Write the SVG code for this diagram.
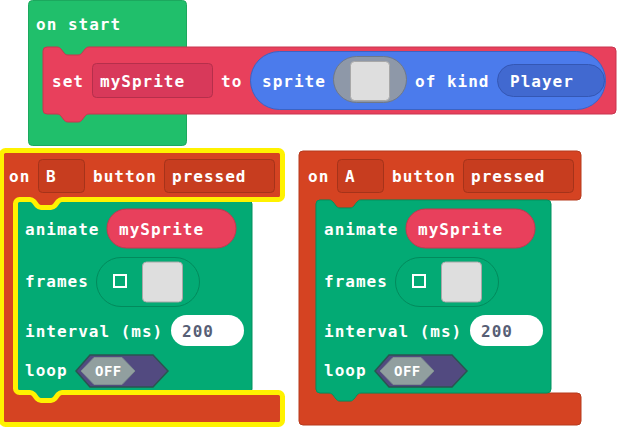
<svg xmlns="http://www.w3.org/2000/svg" width="617" height="427" viewBox="0 0 617 427">
  <style>
    .t { font-family: "DejaVu Sans Mono", "Liberation Mono", monospace; font-weight: bold; font-size: 16px; letter-spacing: 1px; fill: #ffffff; }
    .num { fill: #575e75; }
    .off { font-size: 14px; letter-spacing: 0.5px; }
    .evt { fill: #d54322; stroke: #b63a1d; stroke-width: 1; }
    .evtField { fill: #c73d1f; stroke: #a5331a; stroke-width: 1; }
    .anim { fill: #03aa74; stroke: #02915f; stroke-width: 1; }
    .animSlot { fill: #03aa74; stroke: #028a5c; stroke-width: 1; }
    .varPill { fill: #e8405c; stroke: #c8354f; stroke-width: 1; }
    .imgBox { fill: #dedede; stroke: #a8a8a8; stroke-width: 1; }
    .numPill { fill: #ffffff; }
    .tglOuter { fill: #524a80; stroke: #2b5450; stroke-width: 1.5; }
    .tglInner { fill: #919f9f; stroke: #7f8f8f; stroke-width: 1; }
    .hl { fill: none; stroke: #fff200; stroke-width: 5; stroke-linejoin: round; }
  </style>

  <!-- on start -->
  <g id="on-start">
    <rect x="28.5" y="0.5" width="158" height="145" rx="4" fill="#20bf6b" stroke="#1ca85e"/>
    <text class="t" x="36" y="30">on start</text>
  </g>

  <!-- set mySprite to sprite ... of kind Player -->
  <g id="set-sprite">
    <path d="M43,51 a4,4 0 0 1 4,-4 H57 c2,0 3,1 4,2 l3,4 c1,1 2,2 4,2 h10 c2,0 3,-1 4,-2 l3,-4 c1,-1 2,-2 4,-2 H612 a4,4 0 0 1 4,4 V110 a4,4 0 0 1 -4,4 H89 c-2,0 -3,1 -4,2 l-3,4 c-1,1 -2,2 -4,2 h-10 c-2,0 -3,-1 -4,-2 l-3,-4 c-1,-1 -2,-2 -4,-2 H47 a4,4 0 0 1 -4,-4 Z" fill="#e8405c" stroke="#c8354f"/>
    <text class="t" x="52" y="87">set</text>
    <rect x="92.5" y="63.5" width="120" height="34" rx="4" fill="#d8395a" stroke="#b52f4b"/>
    <text class="t" x="100" y="87">mySprite</text>
    <text class="t" x="221" y="87">to</text>
    <rect x="250.5" y="51.5" width="355" height="58" rx="29" fill="#4b7bec" stroke="#3b63c4"/>
    <text class="t" x="262" y="87">sprite</text>
    <rect x="333.5" y="56.5" width="73" height="46" rx="23" fill="#8e98a8" stroke="#6f7888"/>
    <rect x="350.5" y="61.5" width="39" height="39" rx="4" class="imgBox"/>
    <text class="t" x="415" y="87">of kind</text>
    <rect x="497.5" y="64.5" width="107" height="32" rx="16" fill="#4169d0" stroke="#3457b4"/>
    <text class="t" x="510" y="87">Player</text>
  </g>

  <!-- on B button pressed (selected) -->
  <g id="on-b-pressed">
    <path class="evt" d="M1.5,154.5 a4,4 0 0 1 4,-4 H278.5 a4,4 0 0 1 4,4 V195.5 a4,4 0 0 1 -4,4 H62 c-2,0 -3,1 -4,2 l-3,4 c-1,1 -2,2 -4,2 h-10 c-2,0 -3,-1 -4,-2 l-3,-4 c-1,-1 -2,-2 -4,-2 H19.5 a4,4 0 0 0 -4,4 V388.5 a4,4 0 0 0 4,4 H30 c2,0 3,1 4,2 l3,4 c1,1 2,2 4,2 h10 c2,0 3,-1 4,-2 l3,-4 c1,-1 2,-2 4,-2 H278.5 a4,4 0 0 1 4,4 V420.5 a4,4 0 0 1 -4,4 H5.5 a4,4 0 0 1 -4,-4 Z"/>
    <text class="t" x="9" y="182">on</text>
    <rect x="38.5" y="159.5" width="46" height="33" rx="4" class="evtField"/>
    <text class="t" x="46" y="182">B</text>
    <text class="t" x="93" y="182">button</text>
    <rect x="164.5" y="159.5" width="110" height="33" rx="4" class="evtField"/>
    <text class="t" x="172" y="182">pressed</text>
  </g>

  <g id="animate-b" transform="translate(-299,0)">
    <path class="anim" d="M316,204 a4,4 0 0 1 4,-4 H329 c2,0 3,1 4,2 l3,4 c1,1 2,2 4,2 h10 c2,0 3,-1 4,-2 l3,-4 c1,-1 2,-2 4,-2 H547 a4,4 0 0 1 4,4 V389 a4,4 0 0 1 -4,4 H361 c-2,0 -3,1 -4,2 l-3,4 c-1,1 -2,2 -4,2 h-10 c-2,0 -3,-1 -4,-2 l-3,-4 c-1,-1 -2,-2 -4,-2 H320 a4,4 0 0 1 -4,-4 Z"/>
    <text class="t" x="324" y="235">animate</text>
    <rect x="406" y="209" width="129" height="39" rx="19.5" class="varPill"/>
    <text class="t" x="418" y="235">mySprite</text>
    <text class="t" x="324" y="287">frames</text>
    <rect x="395.5" y="257.5" width="103" height="49" rx="24.5" class="animSlot"/>
    <rect x="413" y="275" width="12" height="12" fill="none" stroke="#ffffff" stroke-width="2"/>
    <rect x="441.5" y="262" width="40" height="40" rx="4" class="imgBox"/>
    <text class="t" x="324" y="337">interval (ms)</text>
    <rect x="470" y="315" width="73" height="31" rx="15.5" class="numPill"/>
    <text class="t num" x="481" y="337">200</text>
    <text class="t" x="324" y="376">loop</text>
    <polygon class="tglOuter" points="375,371 389,355 452,355 467,371 452,387 389,387"/>
    <polygon class="tglInner" points="380,371 393,357.5 421,357.5 434,371 421,384.5 393,384.5"/>
    <text class="t off" x="394" y="376">OFF</text>
  </g>

  <!-- selection outline drawn over the selected stack -->
  <path id="b-selection" class="hl" d="M1.5,154.5 a4,4 0 0 1 4,-4 H278.5 a4,4 0 0 1 4,4 V195.5 a4,4 0 0 1 -4,4 H62 c-2,0 -3,1 -4,2 l-3,4 c-1,1 -2,2 -4,2 h-10 c-2,0 -3,-1 -4,-2 l-3,-4 c-1,-1 -2,-2 -4,-2 H19.5 a4,4 0 0 0 -4,4 V388.5 a4,4 0 0 0 4,4 H30 c2,0 3,1 4,2 l3,4 c1,1 2,2 4,2 h10 c2,0 3,-1 4,-2 l3,-4 c1,-1 2,-2 4,-2 H278.5 a4,4 0 0 1 4,4 V420.5 a4,4 0 0 1 -4,4 H5.5 a4,4 0 0 1 -4,-4 Z"/>

  <!-- on A button pressed -->
  <g id="on-a-pressed">
    <path class="evt" d="M299,155 a4,4 0 0 1 4,-4 H577 a4,4 0 0 1 4,4 V196 a4,4 0 0 1 -4,4 H361 c-2,0 -3,1 -4,2 l-3,4 c-1,1 -2,2 -4,2 h-10 c-2,0 -3,-1 -4,-2 l-3,-4 c-1,-1 -2,-2 -4,-2 H320 a4,4 0 0 0 -4,4 V389 a4,4 0 0 0 4,4 H329 c2,0 3,1 4,2 l3,4 c1,1 2,2 4,2 h10 c2,0 3,-1 4,-2 l3,-4 c1,-1 2,-2 4,-2 H577 a4,4 0 0 1 4,4 V421 a4,4 0 0 1 -4,4 H303 a4,4 0 0 1 -4,-4 Z"/>
    <text class="t" x="308" y="182">on</text>
    <rect x="337.5" y="159.5" width="46" height="33" rx="4" class="evtField"/>
    <text class="t" x="345" y="182">A</text>
    <text class="t" x="392" y="182">button</text>
    <rect x="463.5" y="159.5" width="110" height="33" rx="4" class="evtField"/>
    <text class="t" x="471" y="182">pressed</text>
  </g>

  <g id="animate-a">
    <path class="anim" d="M316,204 a4,4 0 0 1 4,-4 H329 c2,0 3,1 4,2 l3,4 c1,1 2,2 4,2 h10 c2,0 3,-1 4,-2 l3,-4 c1,-1 2,-2 4,-2 H547 a4,4 0 0 1 4,4 V389 a4,4 0 0 1 -4,4 H361 c-2,0 -3,1 -4,2 l-3,4 c-1,1 -2,2 -4,2 h-10 c-2,0 -3,-1 -4,-2 l-3,-4 c-1,-1 -2,-2 -4,-2 H320 a4,4 0 0 1 -4,-4 Z"/>
    <text class="t" x="324" y="235">animate</text>
    <rect x="406" y="209" width="129" height="39" rx="19.5" class="varPill"/>
    <text class="t" x="418" y="235">mySprite</text>
    <text class="t" x="324" y="287">frames</text>
    <rect x="395.5" y="257.5" width="103" height="49" rx="24.5" class="animSlot"/>
    <rect x="413" y="275" width="12" height="12" fill="none" stroke="#ffffff" stroke-width="2"/>
    <rect x="441.5" y="262" width="40" height="40" rx="4" class="imgBox"/>
    <text class="t" x="324" y="337">interval (ms)</text>
    <rect x="470" y="315" width="73" height="31" rx="15.5" class="numPill"/>
    <text class="t num" x="481" y="337">200</text>
    <text class="t" x="324" y="376">loop</text>
    <polygon class="tglOuter" points="375,371 389,355 452,355 467,371 452,387 389,387"/>
    <polygon class="tglInner" points="380,371 393,357.5 421,357.5 434,371 421,384.5 393,384.5"/>
    <text class="t off" x="394" y="376">OFF</text>
  </g>
</svg>
